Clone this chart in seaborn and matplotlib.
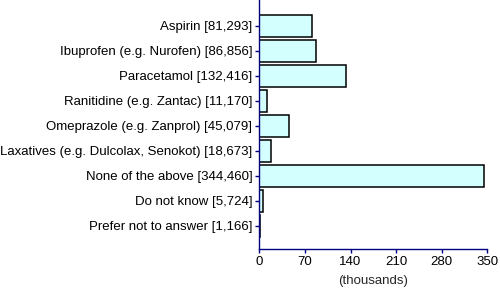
import matplotlib
matplotlib.use("Agg")
import matplotlib.pyplot as plt
import seaborn as sns
import pandas as pd

categories = [
    "Aspirin [81,293]",
    "Ibuprofen (e.g. Nurofen) [86,856]",
    "Paracetamol [132,416]",
    "Ranitidine (e.g. Zantac) [11,170]",
    "Omeprazole (e.g. Zanprol) [45,079]",
    "Laxatives (e.g. Dulcolax, Senokot) [18,673]",
    "None of the above [344,460]",
    "Do not know [5,724]",
    "Prefer not to answer [1,166]",
]
values = [81.293, 86.856, 132.416, 11.170, 45.079, 18.673, 344.460, 5.724, 1.166]
xticks = [0, 70, 140, 210, 280, 350]

df = pd.DataFrame({"category": categories, "value": values})

sns.set_style("white")
plt.rcParams["font.family"] = ["Liberation Sans", "DejaVu Sans"]

fig = plt.figure(figsize=(5.0, 2.98), dpi=100)
ax = fig.add_axes([259.3 / 500, 1 - 249 / 298, (487.3 - 259.3) / 500, 249 / 298])

sns.barplot(data=df, x="value", y="category", orient="h", color="#d4ffff",
            saturation=1, edgecolor="black", linewidth=1.1, width=0.86, ax=ax)

ax.set_xlim(0, 350)
ax.set_ylim(8.93, -1.03)
ax.set_xticks(xticks)
ax.set_xticklabels([str(t) for t in xticks])
ax.set_xlabel("(thousands)", fontsize=9.5, labelpad=5)
ax.set_ylabel("")
for s in ["top", "right"]:
    ax.spines[s].set_visible(False)
for s in ["left", "bottom"]:
    ax.spines[s].set_color("#000080")
    ax.spines[s].set_linewidth(1.0)
ax.tick_params(axis="both", which="major", length=3, width=1, color="#000080",
               labelsize=9.5, labelcolor="black", direction="out", pad=2)
ax.tick_params(axis="y", left=True)
ax.tick_params(axis="x", bottom=True)

fig.savefig("out.png", dpi=100)
